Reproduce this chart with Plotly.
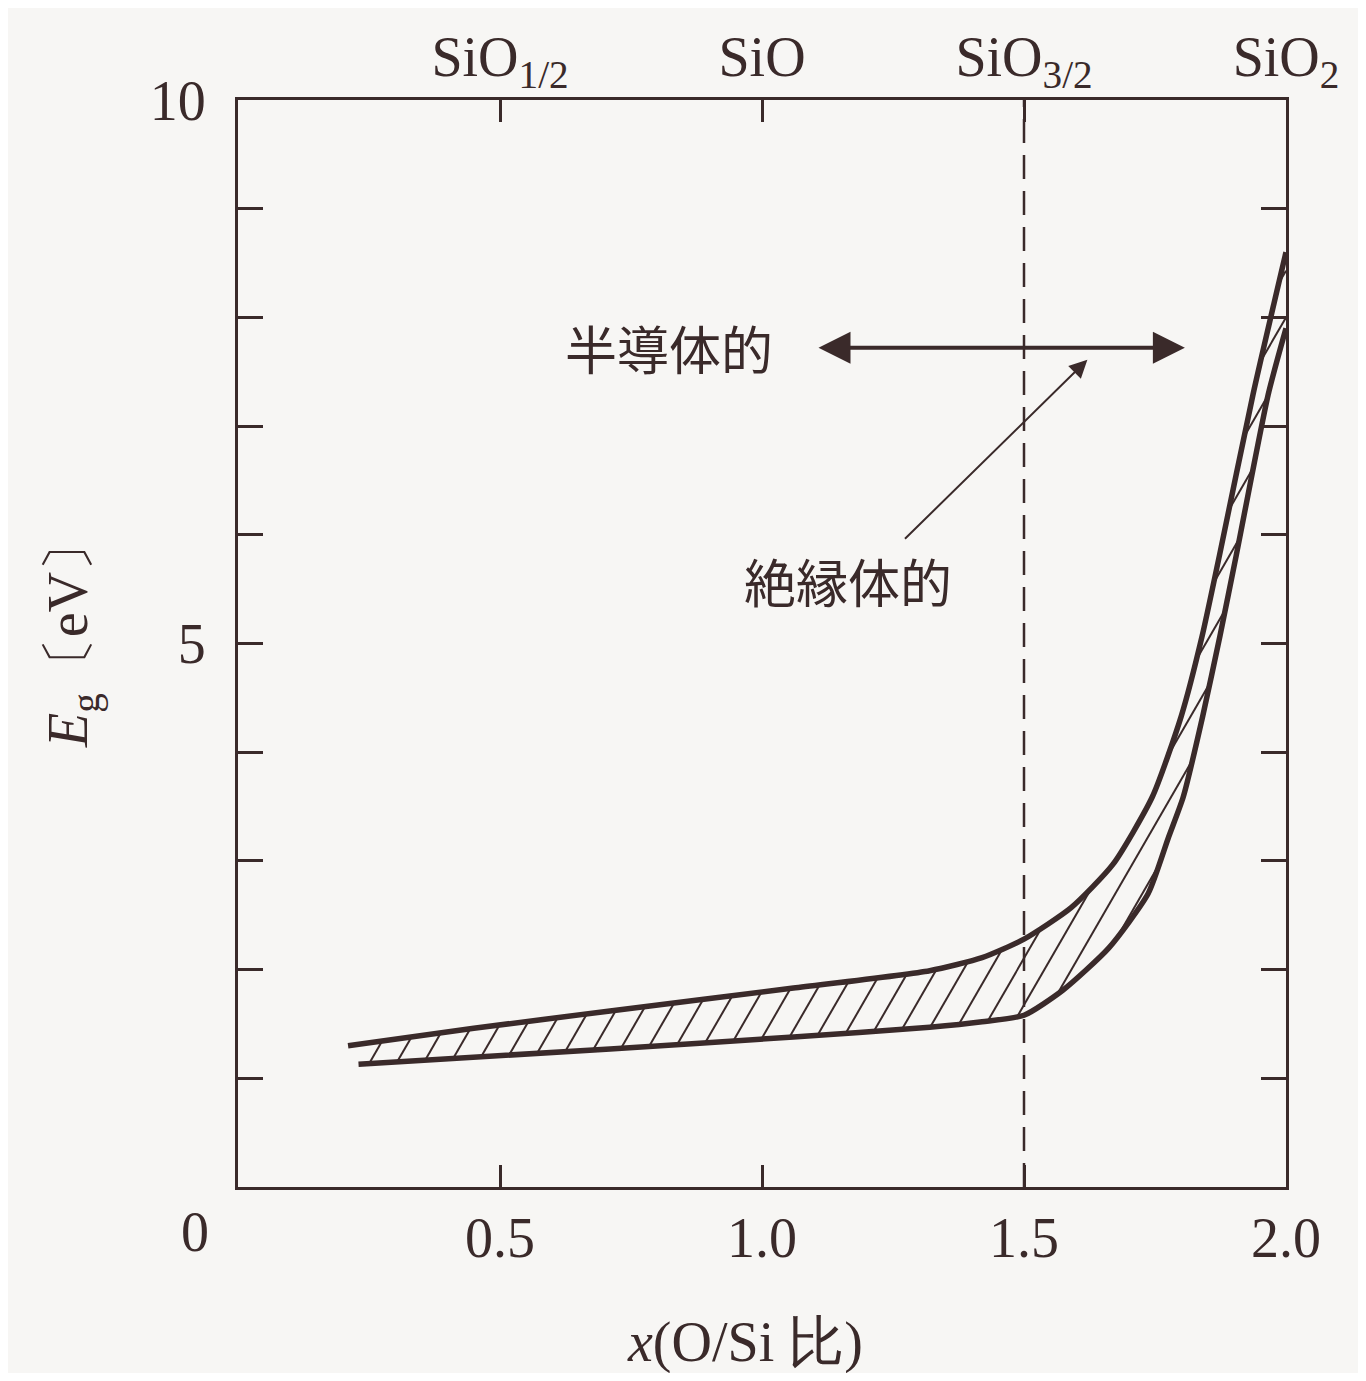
import numpy as np
import plotly.graph_objects as go

# ---- data ----
x_upper = [0.21, 0.45, 0.71, 1.06, 1.32, 1.42, 1.50, 1.59, 1.67, 1.745, 1.80, 1.84, 1.873, 1.937, 2.0]
E_upper = [1.30, 1.46, 1.62, 1.83, 1.99, 2.11, 2.28, 2.57, 2.97, 3.59, 4.33, 5.07, 5.81, 7.29, 8.6]

x_lower = [0.23, 0.71, 1.06, 1.32, 1.42, 1.50, 1.574, 1.662, 1.737, 1.776, 1.804, 1.841, 1.874, 1.905, 1.966, 2.0]
E_lower = [1.13, 1.27, 1.38, 1.47, 1.52, 1.58, 1.81, 2.20, 2.70, 3.22, 3.59, 4.33, 5.07, 5.81, 7.29, 7.9]

x_ticks = [0.5, 1.0, 1.5, 2.0]
x_ticktext = ["0.5", "1.0", "1.5", "2.0"]
top_ticktext = ["SiO<sub>1/2</sub>", "SiO", "SiO<sub>3/2</sub>", "SiO<sub>2</sub>"]
y_ticks = [5, 10]
y_ticktext = ["5", "10"]

boundary_x = 1.5
semi_arrow_x = [1.105, 1.807]
semi_arrow_y = 7.72
ins_arrow_tail = (1.27, 5.95)
ins_arrow_head = (1.621, 7.61)
semi_label = ("半導体的", 0.822, 7.72)
ins_label = ("絶縁体的", 1.165, 5.58)

INK = "#3a2a2a"
BG = "#f7f6f4"
SERIF = "Liberation Serif, Times New Roman, serif"
JP = "Noto Sans CJK JP"
FS = 56

# ---- layout geometry (pixels) ----
FIG_W, FIG_H = 1350, 1365
M_L, M_R, M_T, M_B = 230, 72, 92, 186
plot_w = FIG_W - M_L - M_R
plot_h = FIG_H - M_T - M_B
X_RANGE = [0, 2]
Y_RANGE = [0, 10]

# ---- hatching: parallel lines at 60 deg (screen space), clipped to the band ----
hatch_angle = 60.0
hatch_step_px = 27.0
px_per_x = plot_w / (X_RANGE[1] - X_RANGE[0])
px_per_y = plot_h / (Y_RANGE[1] - Y_RANGE[0])
k = np.tan(np.radians(hatch_angle)) * px_per_x / px_per_y
step = hatch_step_px / px_per_x
x0 = max(x_upper[0], x_lower[0])
xs = np.linspace(x0, 2.0, 6000)
up = np.interp(xs, x_upper, E_upper)
lo = np.interp(xs, x_lower, E_lower)
hx, hy = [], []
for c in np.arange(x0 - Y_RANGE[1] / k, 2.0, step):
    yy = k * (xs - c)
    inside = (yy >= lo) & (yy <= up)
    if not inside.any():
        continue
    idx = np.flatnonzero(inside)
    breaks = np.flatnonzero(np.diff(idx) > 1)
    starts = np.concatenate(([idx[0]], idx[breaks + 1]))
    ends = np.concatenate((idx[breaks], [idx[-1]]))
    for s, e in zip(starts, ends):
        hx += [xs[s], xs[e], None]
        hy += [yy[s], yy[e], None]

fig = go.Figure()

fig.add_trace(go.Scatter(
    x=hx, y=hy, mode="lines", line=dict(color=INK, width=2),
    showlegend=False, hoverinfo="skip"))
fig.add_trace(go.Scatter(
    x=x_lower, y=E_lower, mode="lines",
    line=dict(color=INK, width=5.5, shape="spline", smoothing=0.6),
    showlegend=False, hoverinfo="skip"))
fig.add_trace(go.Scatter(
    x=x_upper, y=E_upper, mode="lines",
    line=dict(color=INK, width=5.5, shape="spline", smoothing=0.6),
    showlegend=False, hoverinfo="skip"))

# dashed boundary line at x = 1.5 (on top axis so that axis is rendered)
fig.add_trace(go.Scatter(
    x=[boundary_x, boundary_x], y=Y_RANGE, xaxis="x2", mode="lines",
    line=dict(color=INK, width=2.5, dash="24px,12px"),
    showlegend=False, hoverinfo="skip"))

fig.update_layout(
    width=FIG_W, height=FIG_H,
    paper_bgcolor=BG, plot_bgcolor=BG,
    margin=dict(l=M_L, r=M_R, t=M_T, b=M_B, autoexpand=False),
    xaxis=dict(range=X_RANGE, tickvals=x_ticks, ticktext=x_ticktext,
               ticks="inside", ticklen=22, tickwidth=3, tickcolor=INK,
               showline=True, linewidth=3, linecolor=INK, mirror="ticks",
               showgrid=False, zeroline=False,
               tickfont=dict(family=SERIF, size=FS, color=INK),
               ticklabelstandoff=0),
    xaxis2=dict(overlaying="x", side="top", matches="x", range=X_RANGE,
                tickvals=x_ticks, ticktext=top_ticktext, ticks="",
                showline=False, showgrid=False, zeroline=False,
                tickfont=dict(family=SERIF, size=FS, color=INK),
                ticklabelstandoff=12),
    yaxis=dict(range=Y_RANGE, tickvals=y_ticks, ticktext=y_ticktext,
               ticks="inside", ticklen=25, tickwidth=3, tickcolor=INK,
               showline=True, linewidth=3, linecolor=INK, mirror="ticks",
               showgrid=False, zeroline=False,
               minor=dict(dtick=1, ticks="inside", ticklen=25, tickwidth=3, tickcolor=INK),
               tickfont=dict(family=SERIF, size=FS, color=INK),
               ticklabelstandoff=18),
)

annotations = [
    dict(x=-0.041, y=-0.041, xref="paper", yref="paper", text="0", showarrow=False,
         xanchor="center", yanchor="middle",
         font=dict(family=SERIF, size=FS, color=INK)),
    dict(x=-0.158, y=0.511, xref="paper", yref="paper", textangle=-90,
         xanchor="center", yanchor="middle",
         text="<i>E</i><sub>g</sub>〔eV〕", showarrow=False,
         font=dict(family=SERIF, size=FS, color=INK)),
    dict(x=0.484, y=-0.143, xref="paper", yref="paper",
         xanchor="center", yanchor="middle",
         text="<i>x</i>(O/Si 比)", showarrow=False,
         font=dict(family=SERIF, size=FS, color=INK)),
    dict(x=semi_label[1], y=semi_label[2], xref="x", yref="y", text=semi_label[0],
         xanchor="center", yanchor="middle",
         showarrow=False, font=dict(family=JP, size=52, color=INK)),
    dict(x=ins_label[1], y=ins_label[2], xref="x", yref="y", text=ins_label[0],
         xanchor="center", yanchor="middle",
         showarrow=False, font=dict(family=JP, size=52, color=INK)),
    # double-headed arrow
    dict(x=semi_arrow_x[1], y=semi_arrow_y, ax=semi_arrow_x[0], ay=semi_arrow_y,
         xref="x", yref="y", axref="x", ayref="y", text="", showarrow=True,
         arrowhead=2, startarrowhead=2, arrowside="end+start",
         arrowwidth=4, arrowsize=1.6, startarrowsize=1.6, arrowcolor=INK),
    # thin arrow
    dict(x=ins_arrow_head[0], y=ins_arrow_head[1], ax=ins_arrow_tail[0], ay=ins_arrow_tail[1],
         xref="x", yref="y", axref="x", ayref="y", text="", showarrow=True,
         arrowhead=2, arrowwidth=2, arrowsize=1.8, arrowcolor=INK),
]
fig.update_layout(annotations=annotations)

fig.write_html("out.html")
